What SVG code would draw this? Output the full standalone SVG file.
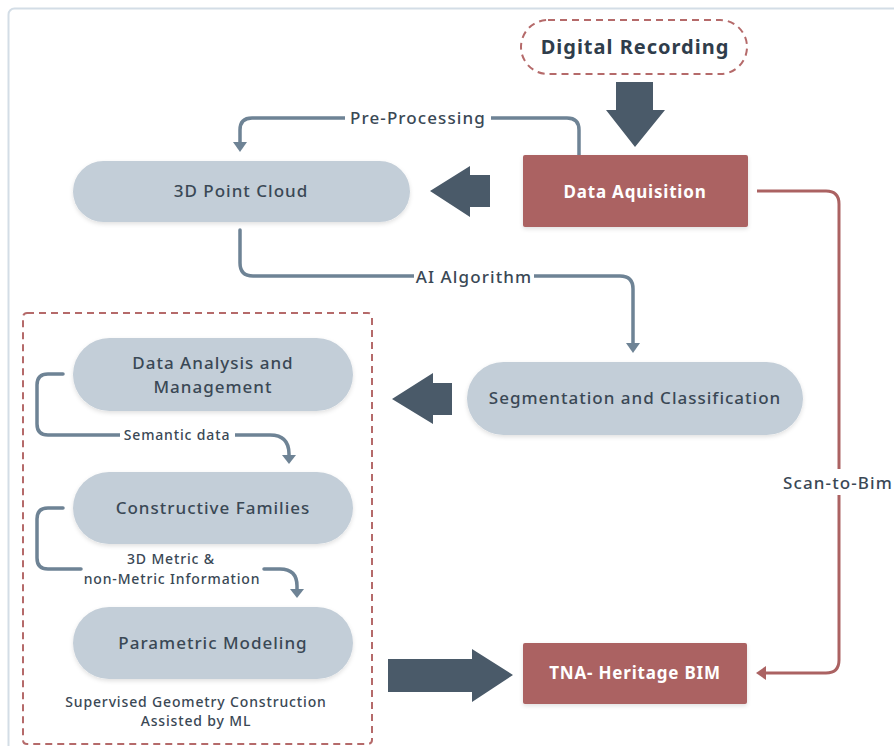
<svg xmlns="http://www.w3.org/2000/svg" width="894" height="746" viewBox="0 0 894 746">
<defs>
<style>
.pill{fill:#c3ced8;}
.red{fill:#ab6262;}
.t{font-family:"Noto Sans","DejaVu Sans",sans-serif;fill:#3a4855;text-anchor:middle;dominant-baseline:central;}
.m{font-size:17px;font-weight:500;letter-spacing:1px;}
.s{font-size:14px;font-weight:500;letter-spacing:0.85px;}
.w{fill:#ffffff;font-weight:700;font-size:17px;letter-spacing:0.8px;}
.con{fill:none;stroke:#6e8395;stroke-width:3.5;stroke-linecap:round;stroke-linejoin:round;}
.rcon{fill:none;stroke:#ab6262;stroke-width:3;stroke-linejoin:round;}
.big{fill:#4a5a69;}
.lbl{font-size:17px;font-weight:500;letter-spacing:1.1px;}
</style>
<filter id="sh" x="-10%" y="-20%" width="120%" height="150%">
<feDropShadow dx="0" dy="2" stdDeviation="2" flood-color="#000" flood-opacity="0.12"/>
</filter>
</defs>
<rect x="0" y="0" width="894" height="746" fill="#ffffff"/>
<rect x="8.5" y="8.5" width="900" height="760" rx="6" fill="none" stroke="#d3dde6" stroke-width="2"/>

<g id="connectors">
<path class="con" d="M579 155 V130 Q579 118 567 118 H252 Q240 118 240 130 V144"/>
<polygon fill="#6e8395" points="233,142 247,142 240,152"/>
<path class="con" d="M240 230 V263 Q240 276 253 276 H620 Q633 276 633 289 V344"/>
<polygon fill="#6e8395" points="626,343 640,343 633,353"/>
<path class="con" d="M63 374 H48 Q37 374 37 385 V424 Q37 435 48 435 H270 Q289 435 289 454 V456"/>
<polygon fill="#6e8395" points="282,455 296,455 289,464"/>
<path class="con" d="M63 508 H48 Q37 508 37 519 V558 Q37 569 48 569 H81"/>
<path class="con" d="M264 569 H280 Q297 569 297 586 V590"/>
<polygon fill="#6e8395" points="290,589 304,589 297,598"/>
<path class="rcon" d="M757 191 H826 Q839 191 839 204 V469"/>
<path class="rcon" d="M839 495 V660 Q839 673 826 673 H762"/>
<polygon fill="#ab6262" points="756,673 766,666 766,680"/>
<polygon class="big" points="616,82 653,82 653,110 665,110 635,147 606,110 616,110"/>
<polygon class="big" points="490,175 490,207 470,207 470,217 430,191 470,166 470,175"/>
<polygon class="big" points="452,383 452,415 433,415 433,424 392,399 433,373 433,383"/>
<polygon class="big" points="388,659 472,659 472,649 513,675 472,702 472,692 388,692"/>
</g>

<g class="t lbl">
<rect x="345" y="108" width="146" height="20" fill="#fff"/>
<text x="418" y="117">Pre-Processing</text>
<rect x="414" y="266" width="120" height="20" fill="#fff"/>
<text x="474" y="276">AI Algorithm</text>
<text x="838" y="482">Scan-to-Bim</text>
</g>
<g class="t s">
<rect x="120" y="426" width="115" height="18" fill="#fff"/>
<text x="177" y="434">Semantic data</text>
<text x="171" y="558">3D Metric &amp;</text>
<text x="172" y="578">non-Metric Information</text>
<text x="196" y="701">Supervised Geometry Construction</text>
<text x="196" y="720">Assisted by ML</text>
</g>

<g id="digital-recording">
<rect x="521" y="20" width="226" height="54" rx="27" fill="#fff" stroke="#b56a6a" stroke-width="2" stroke-dasharray="7,5"/>
<text class="t" x="635" y="46" style="font-size:20px;font-weight:700;fill:#2f3d4b;letter-spacing:1px">Digital Recording</text>
</g>
<g id="data-aquisition">
<rect class="red" x="523" y="155" width="225" height="72" rx="2" filter="url(#sh)"/>
<text class="t w" x="635" y="191">Data Aquisition</text>
</g>
<g id="point-cloud">
<rect class="pill" x="73" y="161" width="337" height="61" rx="30.5" filter="url(#sh)"/>
<text class="t m" x="241" y="190">3D Point Cloud</text>
</g>
<g id="segmentation">
<rect class="pill" x="467" y="362" width="336" height="73" rx="36.5" filter="url(#sh)"/>
<text class="t m" x="635" y="397">Segmentation and Classification</text>
</g>
<g id="group-box">
<rect x="23" y="313" width="349" height="431" rx="4" fill="none" stroke="#b56a6a" stroke-width="2" stroke-dasharray="7,5"/>
</g>
<g id="data-analysis">
<rect class="pill" x="73" y="338" width="280" height="73" rx="36.5" filter="url(#sh)"/>
<text class="t m" x="213" y="362">Data Analysis and</text>
<text class="t m" x="213" y="386">Management</text>
</g>
<g id="constructive">
<rect class="pill" x="73" y="472" width="280" height="72" rx="36" filter="url(#sh)"/>
<text class="t m" x="213" y="507">Constructive Families</text>
</g>
<g id="parametric">
<rect class="pill" x="73" y="607" width="280" height="72" rx="36" filter="url(#sh)"/>
<text class="t m" x="213" y="642">Parametric Modeling</text>
</g>
<g id="tna">
<rect class="red" x="523" y="643" width="224" height="61" rx="2" filter="url(#sh)"/>
<text class="t w" x="635" y="672">TNA- Heritage BIM</text>
</g>
</svg>
